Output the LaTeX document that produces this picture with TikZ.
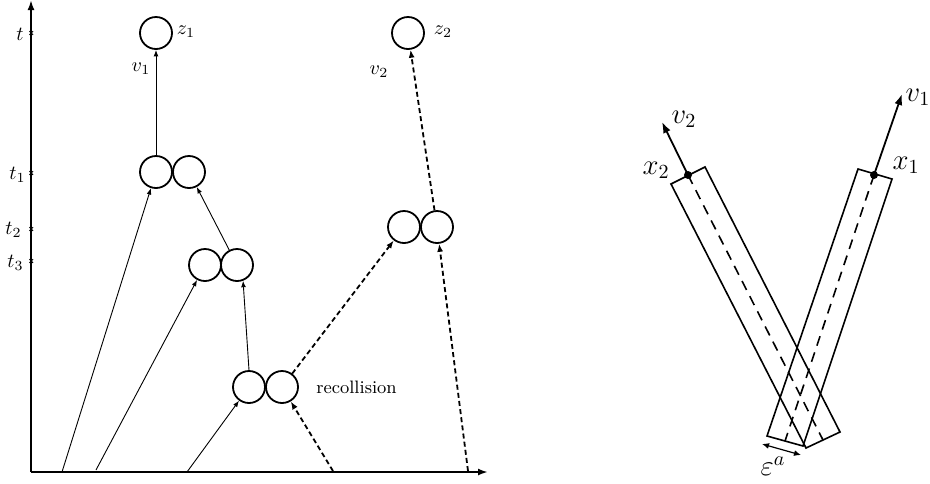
\documentclass[tikz,border=0pt]{standalone}
\usetikzlibrary{arrows.meta}
\begin{document}
\begin{tikzpicture}[x=0.5pt,y=-0.5pt,
  ball/.style={circle,draw,line width=0.9pt,minimum size=16pt,inner sep=0pt},
  lbl/.style={font=\normalsize,inner sep=0pt},
  reclbl/.style={font=\small,inner sep=0pt},
  rlbl/.style={font=\Large,inner sep=0pt},
  thinarr/.style={line width=0.45pt,-{Latex[length=3.2pt,width=2.4pt]}},
  dasharr/.style={line width=0.9pt,dash pattern=on 2.5pt off 1.6pt,-{Latex[length=4pt,width=3pt]}},
  axis/.style={line width=1pt,-{Latex[length=5pt,width=3.5pt]}},
  tube/.style={line width=0.8pt,line join=miter},
  axisline/.style={line width=0.8pt,dash pattern=on 5pt off 3.5pt},
  vel/.style={line width=0.9pt,-{Latex[length=5.5pt,width=4pt]}},
  tickmark/.style={line width=0.5pt}]
\useasboundingbox (0,0) rectangle (930,483);
% axes
\coordinate (O) at (31,472);
\coordinate (Ytop) at (31,0);
\coordinate (Xend) at (488,472);
\draw[axis] (O) -- (Ytop);
\draw[axis] (O) -- (Xend);
% ticks
\foreach \y/\n in {33/t,173/tone,229/ttwo,261/tthree}{
  \draw[tickmark] (29.5,\y-1.8) -- (33,\y+1.8) (29.5,\y+1.8) -- (33,\y-1.8);
  \coordinate (\n) at (31,\y);
}
\node[lbl,anchor=east] (lt) at (24,34) {$t$};
\node[lbl,anchor=east] (lt1) at (26,175) {$t_1$};
\node[lbl,anchor=east] (lt2) at (22,230) {$t_2$};
\node[lbl,anchor=east] (lt3) at (24,263) {$t_3$};
% balls
\node[ball] (z1) at (156,33) {};
\node[ball] (p1a) at (156,172) {};
\node[ball] (p1b) at (189,172) {};
\node[ball] (p2a) at (205,265) {};
\node[ball] (p2b) at (237,265) {};
\node[ball] (p3a) at (249,387) {};
\node[ball] (p3b) at (282,387) {};
\node[ball] (p4a) at (404,227) {};
\node[ball] (p4b) at (437,227) {};
\node[ball] (z2) at (408,33) {};
\node[lbl] (lz1) at (186,32) {$z_1$};
\node[lbl] (lz2) at (443,32) {$z_2$};
\node[lbl] (lv1) at (141,69) {$v_1$};
\node[lbl] (lv2) at (379,72) {$v_2$};
\node[reclbl,anchor=west] (lrec) at (316,387) {recollision};
% ground points
\coordinate (g1) at (62,472);
\coordinate (g2) at (96,470);
\coordinate (g3) at (187,472);
\coordinate (g4) at (333,471);
\coordinate (g5) at (468,471);
% solid arrows
\draw[thinarr] (p1a) -- (z1);
\draw[thinarr] (g1) -- (p1a);
\draw[thinarr] (p2b) -- (p1b);
\draw[thinarr] (g2) -- (p2a);
\draw[thinarr] (p3a.north) -- (p2b.-69);
\draw[thinarr] (g3) -- (p3a);
% dashed arrows
\draw[dasharr] (g4) -- (p3b);
\draw[dasharr] (p3b) -- (p4a);
\draw[dasharr] (g5) -- (p4b);
\draw[dasharr] (p4b) -- (z2);
% right diagram: tube 1
\coordinate (x1) at (874,175);
\coordinate (a1) at (858,169);
\coordinate (b1) at (892,179);
\coordinate (c1) at (803,446);
\coordinate (d1) at (767,436);
\coordinate (m1) at (785,441);
\draw[tube] (a1) -- (b1) -- (c1) -- (d1) -- cycle;
\draw[axisline] (x1) -- (m1);
% tube 2
\coordinate (x2) at (688,175);
\coordinate (a2) at (671,184);
\coordinate (b2) at (705,167);
\coordinate (c2) at (840,432);
\coordinate (d2) at (806,448);
\coordinate (m2) at (823,440);
\draw[tube] (a2) -- (b2) -- (c2) -- (d2) -- cycle;
\draw[axisline] (x2) -- (m2);
% velocities
\coordinate (v1end) at (902,94);
\coordinate (v2end) at (662,122);
\draw[vel] (x1) -- (v1end);
\draw[vel] (x2) -- (v2end);
\fill (x1) circle (2pt);
\fill (x2) circle (2pt);
\node[rlbl] (lx1) at (906,165) {$x_1$};
\node[rlbl] (lx2) at (656,170) {$x_2$};
\node[rlbl] (lvv1) at (918,97) {$v_1$};
\node[rlbl] (lvv2) at (684,119) {$v_2$};
% epsilon
\coordinate (e1) at (762,444);
\coordinate (e2) at (801,455);
\draw[line width=0.6pt,{Latex[length=3.5pt,width=3pt]}-{Latex[length=3.5pt,width=3pt]}] (e1) -- (e2);
\node[rlbl] (leps) at (773,466) {$\varepsilon^a$};
\end{tikzpicture}
\end{document}
